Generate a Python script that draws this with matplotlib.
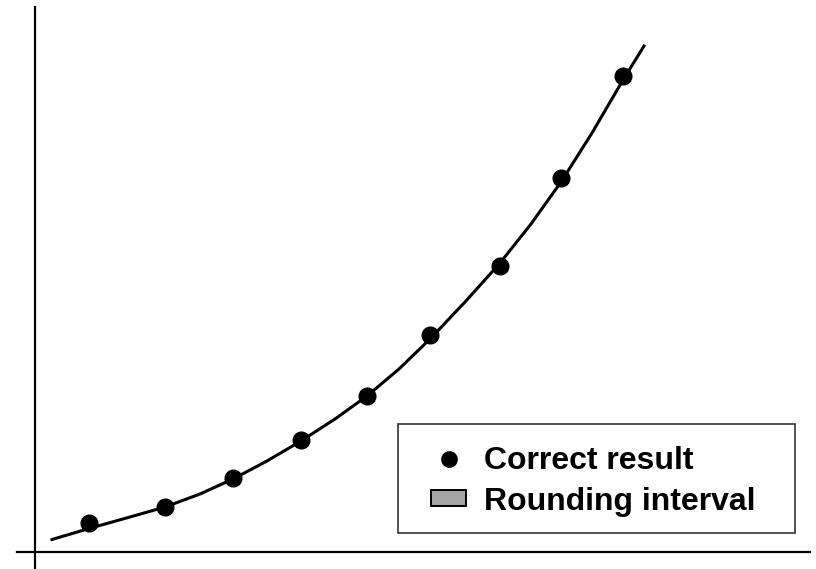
import matplotlib

matplotlib.use("Agg")
import matplotlib.pyplot as plt
from matplotlib.lines import Line2D
from matplotlib.patches import Patch, Rectangle

plt.rcParams["font.family"] = ["Liberation Sans", "DejaVu Sans"]

# smooth reference curve (x, y measured from the axes origin)
curve_x = [17, 54, 95, 130, 165, 198, 232, 266, 300, 332, 364, 395, 430, 465, 496, 526, 557, 588, 609]
curve_y = [12.5, 23.5, 35, 45, 58, 73, 91, 111, 133, 156, 183, 213, 250, 289, 328, 370, 419, 472, 506]

# correct results at each sample
point_x = [54, 130, 198, 266, 332, 395, 465, 526, 588]
point_y = [29, 45, 74, 112, 156, 217, 286, 374, 476]

labels = ["Correct result", "Rounding interval"]

W, H = 816, 569
fig = plt.figure(figsize=(W / 100, H / 100), dpi=100)
ax = fig.add_axes([0, 0, 1, 1])
ax.set_xlim(-35, 781)
ax.set_ylim(-17, 552)

ax.plot(curve_x, curve_y, color="black", lw=2.2, solid_joinstyle="round", zorder=2)
ax.plot(point_x, point_y, "o", color="black", ms=12, zorder=3)

# bare axes crossing at the origin
for side in ("top", "right"):
    ax.spines[side].set_visible(False)
ax.spines["left"].set_position(("data", 0))
ax.spines["bottom"].set_position(("data", 0))
ax.spines["left"].set_bounds(-17, 545)
ax.spines["bottom"].set_bounds(-18, 775)
for side in ("left", "bottom"):
    ax.spines[side].set_linewidth(1.6)
ax.set_xticks([])
ax.set_yticks([])

# legend frame drawn separately so the box can be sized freely
box = Rectangle((398 / W, 1 - 533 / H), (795 - 398) / W, (533 - 424) / H,
                transform=fig.transFigure, facecolor="white", edgecolor="#333333",
                lw=1.2, zorder=4, clip_on=False)
ax.add_patch(box)

handles = [
    Line2D([], [], marker="o", ls="none", color="black", ms=11),
    Patch(facecolor="#a6a6a6", edgecolor="black", lw=1.4),
]
fs = 23
leg = ax.legend(
    handles, labels,
    loc="upper left", bbox_to_anchor=(431 / W, 1 - 446 / H), bbox_transform=fig.transFigure,
    borderaxespad=0, borderpad=0, prop={"size": fs, "weight": "bold"}, frameon=False,
    handlelength=1.1, handleheight=0.4, handletextpad=0.55, labelspacing=0.33,
)
leg.set_zorder(5)

fig.savefig("out.png", dpi=100)
